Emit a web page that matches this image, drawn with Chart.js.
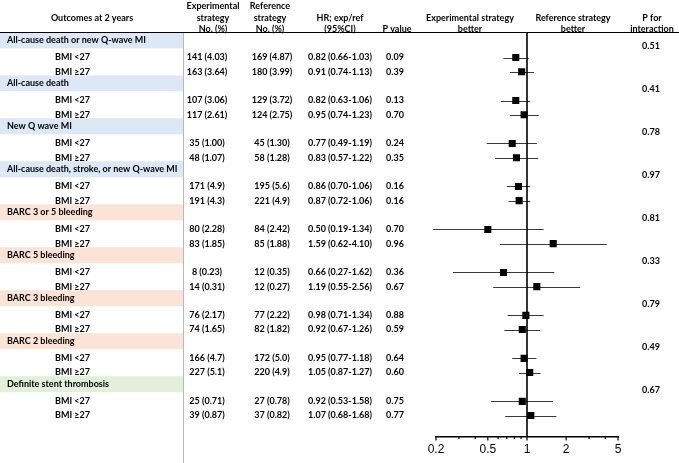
<!DOCTYPE html>
<html>
<head>
<meta charset="utf-8">
<script src="https://cdn.jsdelivr.net/npm/chart.js@4"></script>
<style>
  html, body { margin: 0; padding: 0; background: #fff; }
  #wrap { width: 679px; height: 463px; position: relative; }
</style>
</head>
<body>
<div id="wrap"><canvas id="c" width="679" height="463"></canvas></div>
<script>
const outcomes = [
  'All-cause death or new Q-wave MI',
  'All-cause death',
  'New Q wave MI',
  'All-cause death, stroke, or new Q-wave MI',
  'BARC 3 or 5 bleeding',
  'BARC 5 bleeding',
  'BARC 3 bleeding',
  'BARC 2 bleeding',
  'Definite stent thrombosis',
]
const subgroups = ['BMI <27', 'BMI \u226527']

// two rows per outcome: BMI <27, BMI >=27
const expEvents = [
  '141 (4.03)', '163 (3.64)', '107 (3.06)', '117 (2.61)', '35 (1.00)', '48 (1.07)',
  '171 (4.9)', '191 (4.3)', '80 (2.28)', '83 (1.85)', '8 (0.23)', '14 (0.31)',
  '76 (2.17)', '74 (1.65)', '166 (4.7)', '227 (5.1)', '25 (0.71)', '39 (0.87)',
]
const refEvents = [
  '169 (4.87)', '180 (3.99)', '129 (3.72)', '124 (2.75)', '45 (1.30)', '58 (1.28)',
  '195 (5.6)', '221 (4.9)', '84 (2.42)', '85 (1.88)', '12 (0.35)', '12 (0.27)',
  '77 (2.22)', '82 (1.82)', '172 (5.0)', '220 (4.9)', '27 (0.78)', '37 (0.82)',
]
const hr     = [0.82, 0.91, 0.82, 0.95, 0.77, 0.83, 0.86, 0.87, 0.50, 1.59, 0.66, 1.19, 0.98, 0.92, 0.95, 1.05, 0.92, 1.07]
const ciLow  = [0.66, 0.74, 0.63, 0.74, 0.49, 0.57, 0.70, 0.72, 0.19, 0.62, 0.27, 0.55, 0.71, 0.67, 0.77, 0.87, 0.53, 0.68]
const ciHigh = [1.03, 1.13, 1.06, 1.23, 1.19, 1.22, 1.06, 1.06, 1.34, 4.10, 1.62, 2.56, 1.34, 1.26, 1.18, 1.27, 1.58, 1.68]
const pValues = [
  '0.09', '0.39', '0.13', '0.70', '0.24', '0.35', '0.16', '0.16', '0.70',
  '0.96', '0.36', '0.67', '0.88', '0.59', '0.64', '0.60', '0.75', '0.77',
]
const pInteraction = ['0.51', '0.41', '0.78', '0.97', '0.81', '0.33', '0.79', '0.49', '0.67']

const xTickLabels = [0.2, 0.5, 1, 2, 5]
const xMinorTicks = [0.3, 0.4, 0.6, 0.7, 0.8, 0.9, 3, 4]

// row layout in y units
const groupY = g => g * 10
const rowY   = i => Math.floor(i / 2) * 10 + 4 + (i % 2) * 3.3
const pIntY  = g => g * 10 + 1.3

const FONT  = 'bold 9px Lato, "Open Sans", sans-serif'
const BANDS = ['#dce8f5', '#fbe3d6', '#e2efd9']
const bandFor = g => g < 4 ? BANDS[0] : (g < 8 ? BANDS[1] : BANDS[2])

const COL = { label: 7, sub: 55, exp: 207, ref: 272, hr: 340, p: 395, pint: 651 }

const tablePlugin = {
  id: 'table',
  beforeDraw(chart) {
    const { ctx } = chart
    const y = chart.scales.y
    ctx.save()
    outcomes.forEach((name, g) => {
      const py = y.getPixelForValue(groupY(g))
      ctx.fillStyle = bandFor(g)
      ctx.fillRect(0, py - 8, 183, 16)
    })
    // light column rule
    ctx.strokeStyle = '#b8b8b8'
    ctx.lineWidth = 1
    ctx.beginPath()
    ctx.moveTo(183.5, 32)
    ctx.lineTo(183.5, 463)
    ctx.stroke()
    // header rule
    ctx.strokeStyle = '#000'
    ctx.beginPath()
    ctx.moveTo(0, 32.5)
    ctx.lineTo(679, 32.5)
    ctx.stroke()
    ctx.restore()
  },
  afterDraw(chart) {
    const { ctx } = chart
    const y = chart.scales.y
    ctx.save()
    ctx.font = FONT
    ctx.fillStyle = '#000'
    ctx.textBaseline = 'middle'

    // header
    ctx.textAlign = 'center'
    const head = [
      [92, ['', 'Outcomes at 2 years', '']],
      [213, ['Experimental', 'strategy', 'No. (%)']],
      [270, ['Reference', 'strategy', 'No. (%)']],
      [340, ['', 'HR; exp/ref', '(95%CI)']],
      [397, ['', '', 'P value']],
      [470, ['', 'Experimental strategy', 'better']],
      [573, ['', 'Reference strategy', 'better']],
      [652, ['', 'P for', 'interaction']],
    ]
    const lineY = [6, 18, 29]
    head.forEach(([x, lines]) => lines.forEach((t, k) => { if (t) ctx.fillText(t, x, lineY[k]) }))

    outcomes.forEach((name, g) => {
      ctx.textAlign = 'left'
      ctx.fillText(name, COL.label, y.getPixelForValue(groupY(g)))
      ctx.textAlign = 'center'
      ctx.fillText(pInteraction[g], COL.pint, y.getPixelForValue(pIntY(g)))
    })

    hr.forEach((v, i) => {
      const py = y.getPixelForValue(rowY(i))
      ctx.textAlign = 'left'
      ctx.fillText(subgroups[i % 2], COL.sub, py)
      ctx.textAlign = 'center'
      ctx.fillText(expEvents[i], COL.exp, py)
      ctx.fillText(refEvents[i], COL.ref, py)
      ctx.fillText(`${v.toFixed(2)} (${ciLow[i].toFixed(2)}-${ciHigh[i].toFixed(2)})`, COL.hr, py)
      ctx.fillText(pValues[i], COL.p, py)
    })
    ctx.restore()
  },
}

const forestPlugin = {
  id: 'forest',
  beforeDatasetsDraw(chart) {
    const { ctx, chartArea } = chart
    const x = chart.scales.x, y = chart.scales.y
    ctx.save()
    // confidence intervals
    ctx.strokeStyle = '#3a3a3a'
    ctx.lineWidth = 1
    hr.forEach((v, i) => {
      const py = Math.round(y.getPixelForValue(rowY(i))) + 0.5
      ctx.beginPath()
      ctx.moveTo(x.getPixelForValue(ciLow[i]), py)
      ctx.lineTo(x.getPixelForValue(ciHigh[i]), py)
      ctx.stroke()
    })
    // line of no effect
    const x1 = x.getPixelForValue(1)
    ctx.strokeStyle = '#000'
    ctx.lineWidth = 1.6
    ctx.beginPath()
    ctx.moveTo(x1, chartArea.top)
    ctx.lineTo(x1, chartArea.bottom)
    ctx.stroke()
    // axis tick marks
    ctx.lineWidth = 1.2
    const tick = (v, len) => {
      const px = x.getPixelForValue(v)
      ctx.beginPath()
      ctx.moveTo(px, chartArea.bottom)
      ctx.lineTo(px, chartArea.bottom + len)
      ctx.stroke()
    }
    xTickLabels.forEach(v => tick(v, 4))
    xMinorTicks.forEach(v => tick(v, 2.5))
    ctx.restore()
  },
}

new Chart(document.getElementById('c'), {
  type: 'scatter',
  data: {
    datasets: [{
      data: hr.map((v, i) => ({ x: v, y: rowY(i) })),
      pointStyle: 'rect',
      pointRadius: 5,
      backgroundColor: '#000',
      borderColor: '#000',
      borderWidth: 0,
    }],
  },
  options: {
    responsive: false,
    animation: false,
    events: [],
    layout: { padding: { left: 436, right: 61, top: 32, bottom: 0 } },
    plugins: { legend: { display: false }, tooltip: { enabled: false } },
    scales: {
      x: {
        type: 'logarithmic',
        min: 0.2,
        max: 5,
        afterBuildTicks: s => { s.ticks = xTickLabels.map(v => ({ value: v })) },
        grid: { display: false, drawTicks: false },
        border: { display: true, color: '#000', width: 1.5 },
        ticks: {
          autoSkip: false,
          maxRotation: 0,
          padding: 6,
          color: '#000',
          font: { family: '"Liberation Sans", Arial, sans-serif', size: 12 },
          callback: v => String(v),
        },
      },
      y: {
        type: 'linear',
        reverse: true,
        min: -1.94,
        max: 92.2,
        display: false,
      },
    },
  },
  plugins: [tablePlugin, forestPlugin],
})
</script>
</body>
</html>
